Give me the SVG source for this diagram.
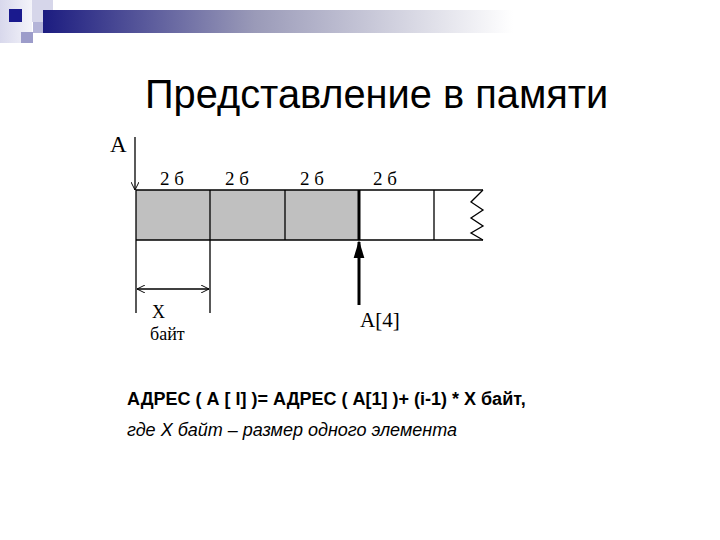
<svg xmlns="http://www.w3.org/2000/svg" width="720" height="540" viewBox="0 0 720 540">
<defs>
<linearGradient id="bar" x1="0" y1="0" x2="1" y2="0">
<stop offset="0" stop-color="#1c1c80"/>
<stop offset="0.45" stop-color="#9a9ab8"/>
<stop offset="1" stop-color="#ffffff"/>
</linearGradient>
<linearGradient id="side" x1="0" y1="0" x2="1" y2="0">
<stop offset="0" stop-color="#d8d8ec"/>
<stop offset="1" stop-color="#f4f4fa"/>
</linearGradient>
<marker id="open" viewBox="0 0 10 10" refX="10" refY="5" markerWidth="8" markerHeight="8" orient="auto-start-reverse" markerUnits="userSpaceOnUse">
<path d="M0,0 L10,5 L0,10" fill="none" stroke="#000" stroke-width="1.2"/>
</marker>
<marker id="solid" viewBox="0 0 10 10" refX="9" refY="5" markerWidth="18" markerHeight="18" orient="auto" markerUnits="userSpaceOnUse">
<path d="M0,2 L10,5 L0,8 z" fill="#000"/>
</marker>
</defs>
<style>
.serif{font-family:"Liberation Serif","Times New Roman",serif;fill:#000}
.sans{font-family:"Liberation Sans",Arial,sans-serif;fill:#000}
.ln{stroke:#000;stroke-width:1.3;fill:none}
</style>
<rect width="720" height="540" fill="#fff"/>
<g id="header">
<rect x="0" y="0" width="32" height="43" fill="url(#side)"/>
<rect x="32" y="0" width="21" height="22" fill="#d6d6ea"/>
<rect x="33" y="22" width="10" height="11" fill="#b4b4d8"/>
<rect x="43" y="10" width="470" height="23" fill="url(#bar)"/>
<rect x="9" y="9" width="13" height="13" fill="#1a1a8e"/>
<rect x="21" y="32" width="12" height="11" fill="#9c9cca"/>
</g>
<g id="title">
<text class="sans" x="145" y="108" font-size="39.8">Представление в памяти</text>
</g>
<g id="memory">
<rect x="136" y="190" width="223" height="50" fill="#c0c0c0"/>
<path class="ln" d="M136,190 H483 M136,240 H483 M210,190 V240 M285,190 V240 M434,190 V240"/>
<path d="M359,190 V240" stroke="#000" stroke-width="3"/>
<path class="ln" d="M483,190 L471,202 L483,210 L471,218 L483,226 L471,233 L483,240"/>
<text class="serif" x="160" y="185" font-size="19">2 б</text>
<text class="serif" x="225" y="185" font-size="19">2 б</text>
<text class="serif" x="300" y="185" font-size="19">2 б</text>
<text class="serif" x="373" y="185" font-size="19">2 б</text>
</g>
<g id="labelA">
<text class="serif" x="110" y="152" font-size="23">A</text>
</g>
<g id="labelA4">
<text class="serif" x="360" y="327" font-size="21">A[4]</text>
</g>
<g id="labelX">
<text class="serif" x="152" y="318" font-size="18">X</text>
<text class="serif" x="150" y="340" font-size="18">байт</text>
</g>
<g id="connectors">
<path class="ln" d="M135,137 V190" marker-end="url(#open)"/>
<path class="ln" d="M136,190 V313 M210,240 V313"/>
<path class="ln" d="M137,289 H209" marker-start="url(#open)" marker-end="url(#open)"/>
<path d="M359,305 V242" stroke="#000" stroke-width="3" marker-end="url(#solid)"/>
</g>
<g id="formula">
<text class="sans" x="127" y="405" font-size="18" font-weight="bold">АДРЕС ( А [ I] )= АДРЕС ( А[1] )+ (i-1) * Х байт,</text>
<text class="sans" x="127" y="436" font-size="18" font-style="italic">где Х байт – размер одного элемента</text>
</g>
</svg>
